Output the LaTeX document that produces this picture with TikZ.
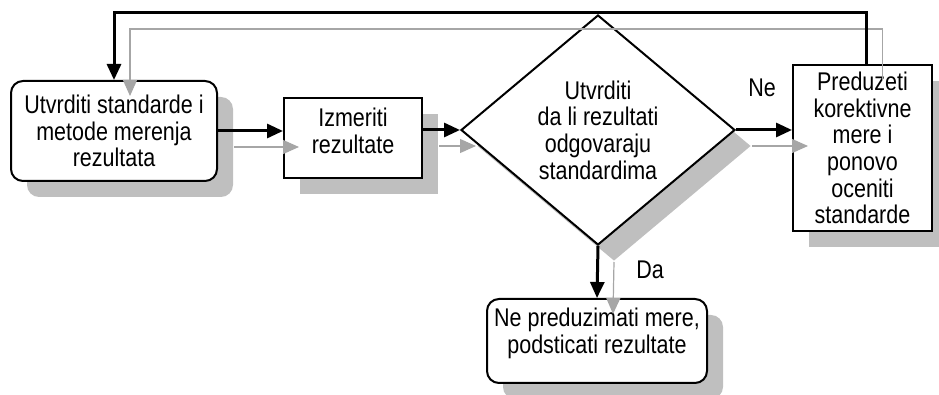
\documentclass[tikz,border=0pt]{standalone}
\usepackage{fontspec}
\setmainfont{Liberation Sans}[FakeStretch=0.84]
\usetikzlibrary{arrows.meta,shapes.geometric,shadows}
\newcommand{\shadowShift}{8pt}
\newcommand{\shadowGray}{gray!50}
\newcommand{\tipSize}{Triangle[length=8pt,width=7pt]}

\begin{document}
\begin{tikzpicture}[x=0.5pt, y=-0.5pt,
  font=\fontsize{12.8pt}{13.35pt}\selectfont,
  korak/.style={draw, line width=1pt, fill=white, align=center, inner sep=0pt,
    drop shadow={shadow xshift=\shadowShift, shadow yshift=-\shadowShift, fill=\shadowGray, opacity=1}},
  zaobljen/.style={korak, rounded corners=6pt},
  odluka/.style={korak, diamond, minimum width=137pt, minimum height=115pt},
  veza/.style={line width=1.5pt, -{\tipSize}},
  senka/.style={gray!70, line width=0.6pt, -{\tipSize},
    transform canvas={shift={(\shadowShift,-\shadowShift)}}}]
\useasboundingbox (0,0) rectangle (939,395);

\node[zaobljen, minimum width=103pt, minimum height=50pt] (standardi) at (114,131) {Utvrditi standarde i\\metode merenja\\rezultata};
\node[korak, minimum width=69pt, minimum height=40pt, text depth=7pt] (merenje) at (353,138) {Izmeriti\\rezultate};
\node[odluka] (provera) at (598,130) {Utvrditi\\da li rezultati\\odgovaraju\\standardima};
\node[korak, minimum width=69.5pt, minimum height=83pt] (korekcija) at (862.5,148) {Preduzeti\\korektivne\\mere i\\ponovo\\oceniti\\standarde};
\node[zaobljen, minimum width=110pt, minimum height=42pt, text depth=10pt] (podsticanje) at (597,341) {Ne preduzimati mere,\\podsticati rezultate};
\node (ne) at (762,88) {Ne};
\node (da) at (650,270) {Da};
\coordinate (vrh) at (500,13);

\draw[senka] (standardi.east) -- (standardi.east -| merenje.west);
\draw[senka] (merenje.east |- provera.west) -- (provera.west);
\draw[senka] (provera.east) -- (provera.east -| korekcija.west);
\draw[senka] (provera.south) -- (podsticanje.north);
\draw[senka] ([xshift=2pt]korekcija.north) |- (vrh) -| (standardi.north);

\draw[veza] (standardi.east) -- (standardi.east -| merenje.west);
\draw[veza] (merenje.east |- provera.west) -- (provera.west);
\draw[veza] (provera.east) -- (provera.east -| korekcija.west);
\draw[veza] (provera.south) -- (podsticanje.north);
\draw[veza] ([xshift=2pt]korekcija.north) |- (vrh) -| (standardi.north);
\end{tikzpicture}
\end{document}
